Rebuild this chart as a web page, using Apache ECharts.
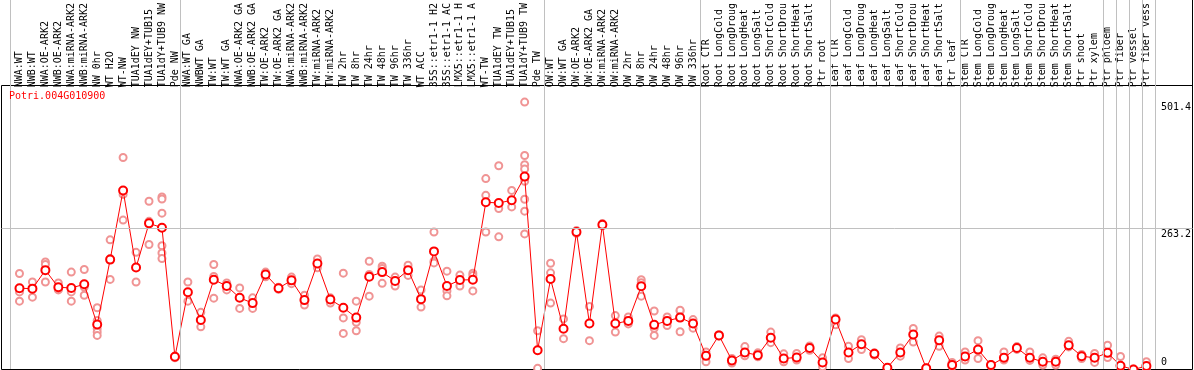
<!DOCTYPE html>
<html>
<head>
<meta charset="utf-8">
<script src="https://cdn.jsdelivr.net/npm/echarts@6/dist/echarts.min.js"></script>
<style>
  html, body { margin: 0; padding: 0; background: #fff; }
  #chart { width: 1194px; height: 370px; }
</style>
</head>
<body>
<div id="chart"></div>
<script>
// ---------------- DATA ----------------
const chartTitle = 'Potri.004G010900';

const categories = [
  'NWA:WT', 'NWB:WT', 'NWA:OE-ARK2', 'NWB:OE-ARK2', 'NWA:miRNA-ARK2', 'NWB:miRNA-ARK2',
  'NW 0hr', 'WT H2O', 'WT-NW', 'TUA1dEY NW', 'TUA1dEY+TUB15 NW', 'TUA1dY+TUB9 NW', 'Pde NW',
  'NWA:WT GA', 'NWBWT GA', 'TW:WT', 'TW:WT GA', 'NWA:OE-ARK2 GA', 'NWB:OE-ARK2 GA',
  'TW:OE-ARK2', 'TW:OE-ARK2 GA', 'NWA:miRNA-ARK2 GA', 'NWB:miRNA-ARK2 GA', 'TW:miRNA-ARK2',
  'TW:miRNA-ARK2 GA', 'TW 2hr', 'TW 8hr', 'TW 24hr', 'TW 48hr', 'TW 96hr', 'TW 336hr',
  'WT ACC', '35S::etr1-1 H2O', '35S::etr1-1 ACC', 'LMX5::etr1-1 H2O', 'LMX5::etr1-1 ACC',
  'WT-TW', 'TUA1dEY TW', 'TUA1dEY+TUB15 TW', 'TUA1dY+TUB9 TW', 'Pde TW',
  'OW:WT', 'OW:WT GA', 'OW:OE-ARK2', 'OW:OE-ARK2 GA', 'OW:miRNA-ARK2', 'OW:miRNA-ARK2 GA',
  'OW 2hr', 'OW 8hr', 'OW 24hr', 'OW 48hr', 'OW 96hr', 'OW 336hr',
  'Root CTR', 'Root LongCold', 'Root LongDrought', 'Root LongHeat', 'Root LongSalt',
  'Root ShortCold', 'Root ShortDrought', 'Root ShortHeat', 'Root ShortSalt', 'Ptr root',
  'Leaf CTR', 'Leaf LongCold', 'Leaf LongDrought', 'Leaf LongHeat', 'Leaf LongSalt',
  'Leaf ShortCold', 'Leaf ShortDrought', 'Leaf ShortHeat', 'Leaf ShortSalt', 'Ptr leaf',
  'Stem CTR', 'Stem LongCold', 'Stem LongDrought', 'Stem LongHeat', 'Stem LongSalt',
  'Stem ShortCold', 'Stem ShortDrought', 'Stem ShortHeat', 'Stem ShortSalt', 'Ptr shoot', 'Ptr xylem',
  'Ptr phloem', 'Ptr fiber', 'Ptr vessel', 'Ptr fiber vessel'
];

// number of categories in each separated block
const groupSizes = [13, 28, 12, 10, 10, 11, 1, 1, 1, 1];

// mean expression per category
const means = [
  153.0, 152.3, 186.9, 154.8, 153.6, 160.4, 85.1, 206.6, 336.1, 191.8, 274.5, 266.4, 24.7,
  145.6, 93.7, 169.0, 157.3, 135.1, 125.2, 178.9, 153.0, 167.8, 130.8, 199.2, 132.0, 116.6,
  98.1, 174.5, 183.2, 166.5, 186.9, 132.6, 222.0, 157.3, 168.4, 169.0, 313.9, 312.7, 317.6,
  362.0, 37.0,
  170.2, 77.1, 258.4, 87.0, 272.0, 87.0, 91.9, 156.7, 84.5, 91.9, 98.1, 87.0,
  26.5, 64.8, 17.9, 32.7, 27.8, 60.5, 21.6, 23.4, 41.3, 14.2,
  94.4, 32.7, 48.1, 30.2, 4.3, 32.7, 66.6, 3.1, 55.5, 9.2,
  25.3, 38.2, 9.2, 22.8, 41.3, 22.8, 15.4, 15.4, 46.3, 25.9, 22.8,
  32.1, 8.0, 0.8, 7.4
];

// individual replicate values per category
const replicates = [
  [180.7, 146.2, 128.9], [164.7, 152.3, 136.3], [202.3, 197.4, 164.7], [162.8, 149.9, 151.7],
  [183.2, 146.2, 128.9], [188.1, 155.4, 140.0], [116.6, 92.5, 77.1, 70.9, 64.8],
  [243.6, 208.5, 169.6], [397.8, 328.7, 280.6], [220.2, 164.7], [315.8, 278.2, 235.0],
  [323.8, 320.1, 293.6, 232.5, 218.9, 208.5], [23.0, 25.0, 26.0],
  [164.7, 128.9], [107.9, 80.8], [197.4, 175.2, 134.5], [162.8, 149.9], [153.6, 115.3],
  [135.1, 115.3], [183.2, 174.5], [154.8, 151.1], [173.9, 161.6], [140.0, 121.5],
  [207.9, 191.2], [135.1, 125.2], [181.3, 97.5, 68.5], [128.9, 89.4, 73.4],
  [203.5, 178.9, 138.2], [194.3, 190.0, 162.2], [173.9, 157.3], [196.1, 177.0],
  [149.9, 117.8], [258.4, 203.5, 200.5], [185.0, 148.0, 138.8], [177.6, 157.3],
  [181.3, 177.0, 148.0], [358.3, 326.9, 258.4], [382.4, 302.2, 249.2], [336.1, 305.3],
  [501.4, 401.5, 384.2, 376.2, 353.4, 319.5, 297.3, 254.7], [73.4, 3.1],
  [199.8, 181.9, 125.2], [95.6, 58.6], [256.0, 261.0], [119.0, 54.9], [270.0, 274.0],
  [101.8, 70.9], [99.3, 86.3], [169.0, 163.4, 138.2], [110.4, 78.0, 64.8], [99.3, 83.3],
  [110.4, 112.0, 71.6], [94.4, 78.3],
  [33.9, 15.4], [66.0, 63.5], [21.6, 12.9], [43.8, 27.8, 26.5], [32.1, 24.7], [70.9, 51.2],
  [30.2, 15.4], [30.9, 18.5], [45.0, 37.0], [22.8, 6.2],
  [97.5, 84.5], [44.4, 21.6], [56.7, 38.2], [32.1, 27.8], [4.3, 4.0], [41.3, 25.9],
  [77.7, 52.4], [4.3, 2.0], [63.5, 44.4], [14.2, 6.2],
  [33.9, 18.5], [54.9, 21.6], [10.5, 8.0], [33.9, 18.5], [43.8, 38.5], [33.9, 17.9],
  [22.8, 9.2], [20.3, 9.2], [53.7, 43.2], [24.7, 21.6, 29.0], [30.9, 14.2],
  [46.3, 24.7, 23.5], [25.3, 5.6], [1.9, 0.5], [15.4, 3.1]
];

const yTickLabels = [0, 263.2, 501.4];

// ---------------- CHART ----------------
const FONT = '"DejaVu Sans Mono", "Liberation Mono", monospace';
const RED = '#ff0000';
const PINK = '#f09494';
const GRID_GRAY = '#c0c0c0';

// separator positions (in category units) after each block
const separators = [-9 / 13];
let cum = 0;
groupSizes.forEach(n => { cum += n; separators.push(cum - 1 + 5 / 13); });

const scatterData = [];
replicates.forEach((arr, i) => arr.forEach(v => scatterData.push([i, v])));

const chart = echarts.init(document.getElementById('chart'), null, { renderer: 'canvas' });

const option = {
  animation: false,
  backgroundColor: '#ffffff',
  title: {
    text: chartTitle,
    left: 9, top: 91, padding: 0,
    textStyle: { color: RED, fontSize: 10, fontFamily: FONT, fontWeight: 'normal' }
  },
  grid: [
    { left: 13, right: 37, top: 85, bottom: 0 },                 // data
    { left: 6.5, right: 30.5, top: 0, bottom: 1 },               // block separators
    { left: 1.5, top: 85.5, width: 1191, height: 284, show: true, // frame
      borderColor: '#000', borderWidth: 1, backgroundColor: 'transparent' }
  ],
  xAxis: [
    {
      type: 'category', gridIndex: 0, position: 'top', data: categories, boundaryGap: true,
      axisLine: { show: false }, axisTick: { show: false }, splitLine: { show: false },
      axisLabel: {
        interval: 0, rotate: 90, margin: 1, color: '#000', fontSize: 10, fontFamily: FONT,
        width: 90, overflow: 'truncate', ellipsis: ''
      }
    },
    { type: 'value', gridIndex: 1, min: -1, max: 88, show: false },
    { type: 'value', gridIndex: 2, min: 0, max: 1, show: false }
  ],
  yAxis: [
    {
      type: 'value', gridIndex: 0, min: 0, max: 527.3, position: 'right',
      axisLine: { show: false }, axisTick: { show: false }, splitLine: { show: false },
      axisLabel: {
        customValues: yTickLabels.filter(v => v !== 0), margin: 8, align: 'left',
        verticalAlign: 'top', color: '#000', fontSize: 10, fontFamily: FONT
      }
    },
    {
      type: 'value', gridIndex: 0, min: 0, max: 527.3, position: 'right',
      axisLine: { show: false }, axisTick: { show: false }, splitLine: { show: false },
      axisLabel: {
        customValues: yTickLabels.filter(v => v === 0), margin: 8, align: 'left',
        verticalAlign: 'bottom', padding: [0, 0, 3, 0], color: '#000', fontSize: 10, fontFamily: FONT
      }
    },
    { type: 'value', gridIndex: 1, min: 0, max: 1, show: false },
    { type: 'value', gridIndex: 2, min: 0, max: 530.1, show: false }
  ],
  graphic: [
    { type: 'line', shape: { x1: 1192.5, y1: 0, x2: 1192.5, y2: 86 }, style: { stroke: '#000', lineWidth: 1 }, silent: true }
  ],
  series: [
    {
      type: 'line', xAxisIndex: 2, yAxisIndex: 3, data: [], silent: true,
      markLine: {
        silent: true, symbol: ['none', 'none'], label: { show: false },
        lineStyle: { color: GRID_GRAY, width: 1, type: 'solid' },
        emphasis: { disabled: true },
        data: [{ yAxis: yTickLabels[1] }]
      }
    },
    {
      type: 'line', xAxisIndex: 1, yAxisIndex: 2, data: [], silent: true,
      markLine: {
        silent: true, symbol: ['none', 'none'], label: { show: false },
        lineStyle: { color: GRID_GRAY, width: 1, type: 'solid' },
        emphasis: { disabled: true },
        data: separators.map(v => ({ xAxis: v }))
      }
    },
    {
      type: 'scatter', xAxisIndex: 0, yAxisIndex: 0, data: scatterData, z: 3,
      symbol: 'emptyCircle', symbolSize: 7, silent: true,
      itemStyle: { color: PINK, borderColor: PINK, borderWidth: 1, opacity: 1 }
    },
    {
      type: 'line', xAxisIndex: 0, yAxisIndex: 0, data: means, z: 4,
      symbol: 'emptyCircle', symbolSize: 8, showAllSymbol: true, silent: true,
      lineStyle: { color: RED, width: 1 },
      itemStyle: { color: RED, borderColor: RED, borderWidth: 1.6 }
    }
  ]
};

chart.setOption(option);
</script>
</body>
</html>
